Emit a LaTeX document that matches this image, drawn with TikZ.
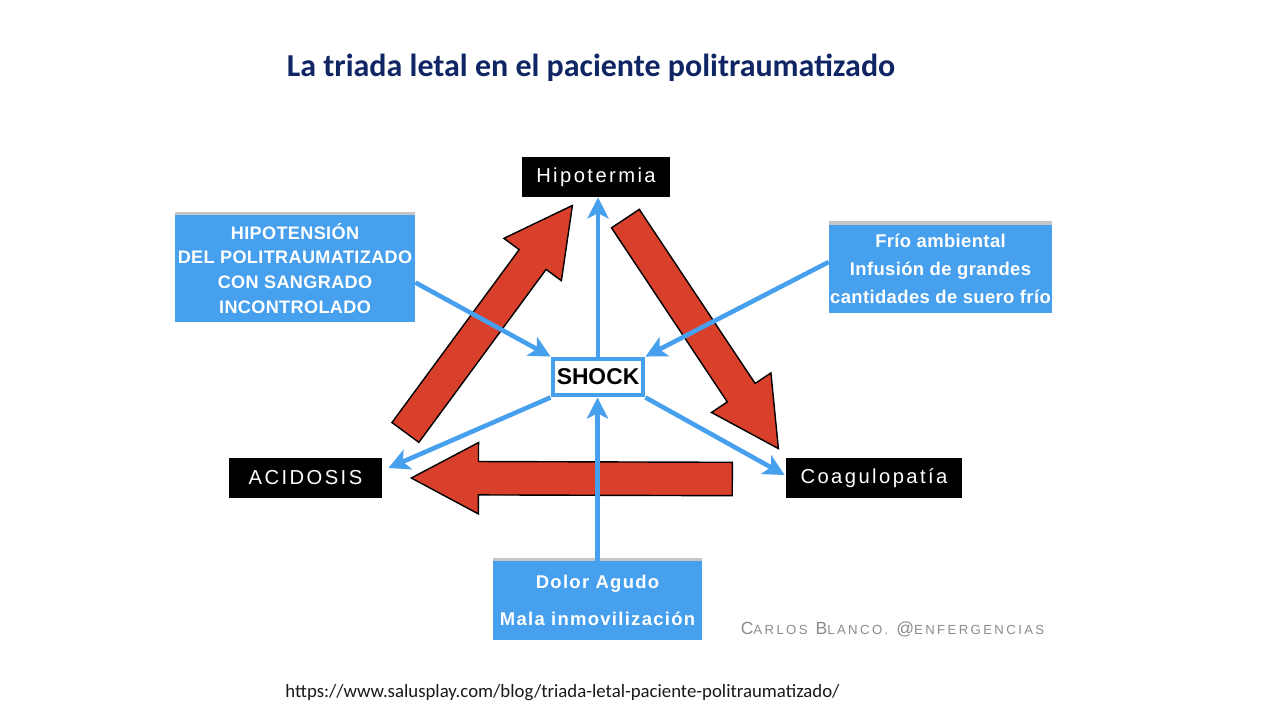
\documentclass[tikz,border=0pt]{standalone}
\usepackage{fontspec}
\setmainfont{Carlito}
\newfontfamily\signfont[LetterSpace=12]{Liberation Sans}
\newfontfamily\causefont[LetterSpace=2]{Liberation Sans}
\newfontfamily\widecausefont[LetterSpace=7]{Liberation Sans}
\newfontfamily\shockfont{Liberation Sans}
\newfontfamily\markfont[LetterSpace=18]{Liberation Sans}
\usetikzlibrary{arrows.meta}
\usetikzlibrary{shapes.arrows}
\usetikzlibrary{shadows}
\usetikzlibrary{calc}

\definecolor{titleblue}{RGB}{16,37,99}
\definecolor{causeblue}{RGB}{70,160,238}
\definecolor{triadred}{RGB}{217,64,43}
\newcommand\wmcap[2]{{\fontsize{10}{10}\selectfont #1}{\fontsize{7.5}{8}\selectfont #2}}

\begin{document}
\begin{tikzpicture}[x=0.02cm, y=-0.02cm, >={Stealth[length=12pt,width=12pt,inset=3pt]},
  signbox/.style={fill=black, text=white, minimum height=0.8cm, inner sep=0pt,
    font=\signfont\fontsize{11.5}{14}\selectfont},
  causebox/.style={fill=causeblue, text=white, align=center, inner sep=0pt,
    font=\causefont\bfseries\fontsize{10.3}{14.2}\selectfont,
    drop shadow={shadow xshift=0pt, shadow yshift=2pt, opacity=.45}},
  shockbox/.style={draw=causeblue, line width=2.8pt, fill=white, minimum width=1.8cm,
    minimum height=0.72cm, inner sep=0pt, font=\shockfont\bfseries\fontsize{13}{15}\selectfont},
  feed/.style={->, draw=causeblue, line width=2.6pt},
  triad/.style={single arrow, draw=black, line width=0.8pt, fill=triadred,
    single arrow tip angle=56, single arrow head extend=0.38cm,
    inner xsep=0pt, inner ysep=0.32cm, sloped, allow upside down}]

  \path[use as bounding box, fill=white] (0,0) rectangle (1280,720);

  \node[text=titleblue, font=\bfseries\fontsize{18.2}{21}\selectfont] (title) at (591,68)
    {La triada letal en el paciente politraumatizado};

  \node[signbox, minimum width=2.96cm] (hipo) at (596,177) {Hipotermia};
  \node[signbox, minimum width=3.06cm] (acid) at (305.5,478) {ACIDOSIS};
  \node[signbox, minimum width=3.52cm] (coag) at (874,478) {Coagulopatía};
  \node[shockbox] (shock) at (598,377) {SHOCK};

  \node[causebox, minimum width=4.8cm, minimum height=2.14cm] (hipoten) at (295,268.5)
    {HIPOTENSIÓN\\DEL POLITRAUMATIZADO\\CON SANGRADO\\INCONTROLADO};
  \node[causebox, minimum width=4.46cm, minimum height=1.76cm,
    font=\causefont\bfseries\fontsize{10.5}{16}\selectfont] (frio) at (940.5,269)
    {Frío ambiental\\Infusión de grandes\\cantidades de suero frío};
  \node[causebox, minimum width=4.18cm, minimum height=1.58cm,
    font=\widecausefont\bfseries\fontsize{10.5}{21}\selectfont] (dolor) at (597.5,600.5)
    {Dolor Agudo\\Mala inmovilización};

  \node[text=black!45, font=\markfont] (mark) at (892.5,629)
    {\wmcap{C}{ARLOS} \wmcap{B}{LANCO.} \wmcap{@}{ENFERGENCIAS}};
  \node[text=black!90, font=\fontsize{10.7}{13}\selectfont] (url) at (562.5,693)
    {https://www.salusplay.com/blog/triada-letal-paciente-politraumatizado/};

  \coordinate (a1) at (405,433);
  \coordinate (a2) at (572,206);
  \coordinate (b1) at (625,218);
  \coordinate (b2) at (778,448);
  \coordinate (c1) at (733,479);
  \coordinate (c2) at (412,478);

  \foreach \s/\e in {a1/a2, b1/b2, c1/c2}
    \path let \p1=($(\e)-(\s)$), \n1={veclen(\x1,\y1)} in
      (\s) -- (\e) node[triad, pos=0, anchor=tail, minimum height=\n1] {};

  \draw[feed] (shock.north) -- (shock.north |- hipo.south);
  \draw[feed] ($(hipoten.east)+(0,14)$) -- (shock.north west);
  \draw[feed] ($(frio.west)+(0,-7)$) -- (shock.north east);
  \draw[feed] (dolor.north) -- (dolor.north |- shock.south);
  \draw[feed] (shock.south west) -- ($(acid.east)+(6,-10)$);
  \draw[feed] (shock.south east) -- ($(coag.west)+(-1,-3)$);
\end{tikzpicture}
\end{document}
